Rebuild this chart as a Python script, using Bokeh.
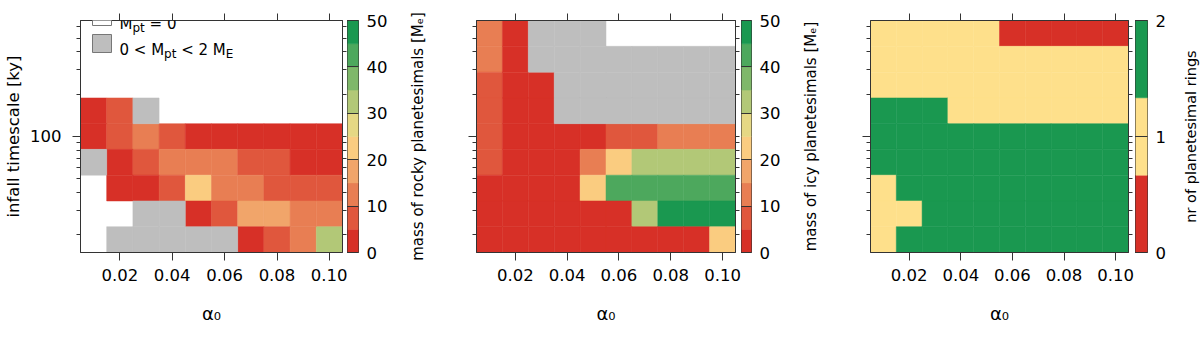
import numpy as np
from bokeh.plotting import figure
from bokeh.layouts import row
from bokeh.models import (ColumnDataSource, LinearColorMapper, FixedTicker, LinearAxis,
                          LogAxis, Range1d, Label, PrintfTickFormatter, BoxAnnotation)
from bokeh.transform import transform
from bokeh.embed import file_html
from bokeh.resources import INLINE

# ---------------- data ----------------
alpha0 = [0.01, 0.02, 0.03, 0.04, 0.05, 0.06, 0.07, 0.08, 0.09, 0.10]
tau_ky = [540, 354, 232, 152, 100, 65.6, 43.0, 28.2, 18.5]  # rows, top to bottom

# mass of rocky planetesimals [M_E] (0 = none, 0<M<2 drawn grey)
rocky = [
    [0,   0,   0,   0,   0,   0,   0,   0,   0,   0],
    [0,   0,   0,   0,   0,   0,   0,   0,   0,   0],
    [0,   0,   0,   0,   0,   0,   0,   0,   0,   0],
    [3.5, 7,   1,   0,   0,   0,   0,   0,   0,   0],
    [3.5, 7,   12,  7,   3.5, 3.5, 3.5, 3.5, 3.5, 3.5],
    [1,   3.5, 7,   12,  12,  12,  7,   7,   3.5, 3.5],
    [0,   3.5, 3.5, 7,   22,  12,  12,  7,   7,   7],
    [0,   0,   1,   1,   3.5, 7,   17,  17,  12,  12],
    [0,   1,   1,   1,   1,   1,   3.5, 7,   12,  32],
]
# mass of icy planetesimals [M_E]
icy = [
    [12,  3.5, 1,   1,   1,   0,   0,   0,   0,   0],
    [12,  3.5, 1,   1,   1,   1,   1,   1,   1,   1],
    [7,   3.5, 3.5, 1,   1,   1,   1,   1,   1,   1],
    [7,   3.5, 3.5, 1,   1,   1,   1,   1,   1,   1],
    [7,   3.5, 3.5, 3.5, 3.5, 7,   7,   12,  12,  12],
    [7,   3.5, 3.5, 3.5, 12,  22,  32,  32,  32,  32],
    [3.5, 3.5, 3.5, 3.5, 22,  42,  42,  42,  42,  42],
    [3.5, 3.5, 3.5, 3.5, 3.5, 3.5, 32,  47,  47,  47],
    [3.5, 3.5, 3.5, 3.5, 3.5, 3.5, 3.5, 3.5, 3.5, 22],
]
# number of planetesimal rings
rings = [
    [1, 1, 1, 1, 1, 0, 0, 0, 0, 0],
    [1, 1, 1, 1, 1, 1, 1, 1, 1, 1],
    [1, 1, 1, 1, 1, 1, 1, 1, 1, 1],
    [2, 2, 2, 1, 1, 1, 1, 1, 1, 1],
    [2, 2, 2, 2, 2, 2, 2, 2, 2, 2],
    [2, 2, 2, 2, 2, 2, 2, 2, 2, 2],
    [1, 2, 2, 2, 2, 2, 2, 2, 2, 2],
    [1, 1, 2, 2, 2, 2, 2, 2, 2, 2],
    [1, 2, 2, 2, 2, 2, 2, 2, 2, 2],
]

x_ticks = [0.02, 0.04, 0.06, 0.08, 0.10]
y_ticks = [100]
y_minor = [20, 30, 40, 50, 60, 70, 80, 90, 200, 300, 400, 500, 600]
mass_ticks = [0, 10, 20, 30, 40, 50]
ring_ticks = [0, 1, 2]

title_rocky = "mass of rocky planetesimals [Mₑ]"
title_icy = "mass of icy planetesimals [Mₑ]"
title_rings = "nr of planetesimal rings"

mass_palette = ["#d73027", "#e0573d", "#e87e53", "#f1a56a", "#facc80",
                "#e5d884", "#b2c877", "#7fb86a", "#4da85d", "#1a9850"]
ring_palette = ["#d73027", "#fee08b", "#1a9850"]
GREY = "#bebebe"
INK = "#333333"
FONT = "DejaVu Sans"

# --------------- helpers ---------------
def edges(c, log=False):
    c = np.log10(c) if log else np.asarray(c, float)
    c = np.sort(c)
    mid = (c[1:] + c[:-1]) / 2
    e = np.concatenate([[c[0] - (mid[0] - c[0])], mid, [c[-1] + (c[-1] - mid[-1])]])
    return 10 ** e if log else e

xe = edges(alpha0)
ye = edges(tau_ky, log=True)

def cells(grid):
    ys = sorted(tau_ky)
    d = dict(left=[], right=[], bottom=[], top=[], v=[])
    for i, t in enumerate(tau_ky):
        k = ys.index(t)
        for j in range(len(alpha0)):
            d["left"].append(xe[j]); d["right"].append(xe[j + 1])
            d["bottom"].append(ye[k]); d["top"].append(ye[k + 1])
            d["v"].append(grid[i][j])
    return d

def subset(d, cond):
    idx = [n for n, v in enumerate(d["v"]) if cond(v)]
    return {k: [d[k][n] for n in idx] for k in d}

W = {' ': .318, '0': .636, '1': .636, '2': .636, '<': .838, '=': .838, 'M': .863, 'E': .632,
     'p': .635, 't': .392}

def tw(s, size):
    return sum(W.get(ch, .6) for ch in s) * size

def add_pieces(p, pieces, x0, y0):
    """horizontal text pieces (with subscripts) as screen-space labels"""
    pos = 0.0
    for text, size, shift in pieces:
        stripped = text.lstrip(' ')
        pos += tw(text[:len(text) - len(stripped)], size)
        p.add_layout(Label(x=x0 + pos, y=y0 - shift, x_units='screen', y_units='screen',
                           text=stripped, text_font=FONT, text_font_size=f"{size}px",
                           text_align='left', text_baseline='alphabetic', text_color='black'))
        pos += tw(stripped, size)

def hide_labels(ax, ticks):
    ax.major_label_overrides = {t: "" for t in ticks}
    ax.major_label_text_font_size = "1px"
    ax.major_label_standoff = 0

def style_label(ax, text, size, standoff):
    ax.axis_label = text
    ax.axis_label_text_font = FONT
    ax.axis_label_text_font_size = size
    ax.axis_label_text_font_style = "normal"
    ax.axis_label_text_color = "black"
    ax.axis_label_standoff = standoff

FIG_H = 346
TOP, FRAME_H = 20, 252
BOT = FIG_H - TOP - FRAME_H

def main_fig(grid, mapper, left_border, frame_w, right_border, prev_title=None,
             prev_standoff=0, grey_cells=True):
    p = figure(width=left_border + frame_w + right_border, height=FIG_H,
               x_range=Range1d(xe[0], xe[-1]), y_range=Range1d(ye[0], ye[-1]),
               y_axis_type="log", toolbar_location=None, output_backend="svg",
               min_border_left=left_border, min_border_right=right_border,
               min_border_top=TOP, min_border_bottom=BOT)
    p.grid.visible = False
    p.outline_line_color = INK
    p.outline_line_width = 1
    d = cells(grid)
    if grey_cells:
        src = ColumnDataSource(subset(d, lambda v: v >= 2))
        p.quad(left="left", right="right", bottom="bottom", top="top", source=src,
               fill_color=transform("v", mapper), line_color=transform("v", mapper), line_width=0.5)
        gsrc = ColumnDataSource(subset(d, lambda v: 0 < v < 2))
        p.quad(left="left", right="right", bottom="bottom", top="top", source=gsrc,
               fill_color=GREY, line_color=GREY, line_width=0.5)
    else:
        src = ColumnDataSource(d)
        p.quad(left="left", right="right", bottom="bottom", top="top", source=src,
               fill_color=transform("v", mapper), line_color=transform("v", mapper), line_width=0.5)

    xb = p.xaxis[0]
    xb.ticker = FixedTicker(ticks=x_ticks)
    xb.formatter = PrintfTickFormatter(format="%.2f")
    yl = p.yaxis[0]
    yl.ticker = FixedTicker(ticks=y_ticks, minor_ticks=y_minor)
    yl.formatter = PrintfTickFormatter(format="%d")
    for ax in (xb, yl):
        ax.axis_line_color = INK
        ax.major_tick_line_color = INK
        ax.minor_tick_line_color = INK
        ax.major_tick_in = 0
        ax.minor_tick_in = 0
        ax.major_tick_out = 8
        ax.minor_tick_out = 4
        ax.major_label_text_font = FONT
        ax.major_label_text_font_size = "16.5px"
        ax.major_label_text_color = "black"
    xb.major_label_standoff = 8
    style_label(xb, "α₀", "18px", 19)
    yl.major_label_standoff = 11
    if prev_title is None:
        style_label(yl, "infall timescale [ky]", "16.5px", 4)
    else:
        # left border of this panel carries the colour-key title of the previous panel
        hide_labels(yl, y_ticks)
        style_label(yl, prev_title, "15px", prev_standoff)

    top = LinearAxis(ticker=FixedTicker(ticks=x_ticks), axis_line_color=INK,
                     major_tick_line_color=INK, major_tick_in=0, major_tick_out=7,
                     minor_tick_out=0)
    hide_labels(top, x_ticks)
    p.add_layout(top, "above")
    right = LogAxis(ticker=FixedTicker(ticks=y_ticks, minor_ticks=y_minor),
                    axis_line_color=INK, major_tick_line_color=INK, minor_tick_line_color=INK,
                    major_tick_in=0, major_tick_out=4, minor_tick_in=0, minor_tick_out=4)
    hide_labels(right, y_ticks)
    p.add_layout(right, "right")
    return p

def bar_fig(mapper, frame_w, right_border, ticks):
    n = len(mapper.palette)
    lo, hi = mapper.low, mapper.high
    bounds = [lo + (hi - lo) * k / n for k in range(n + 1)]
    p = figure(width=frame_w + right_border, height=FIG_H, x_range=Range1d(0, 1),
               y_range=Range1d(lo, hi), x_axis_type=None, y_axis_type=None,
               toolbar_location=None, output_backend="svg",
               min_border_left=0, min_border_right=right_border,
               min_border_top=TOP, min_border_bottom=BOT)
    p.grid.visible = False
    p.outline_line_color = INK
    src = ColumnDataSource(dict(bottom=bounds[:-1], top=bounds[1:], c=list(mapper.palette)))
    p.quad(left=0, right=1, bottom="bottom", top="top", fill_color="c", line_color="c",
           line_width=0.5, source=src)
    ax = LinearAxis(ticker=FixedTicker(ticks=ticks), axis_line_color=None,
                    major_tick_line_color=INK, major_tick_in=frame_w, major_tick_out=0,
                    minor_tick_out=0, minor_tick_in=0,
                    major_label_text_font=FONT, major_label_text_font_size="16.5px",
                    major_label_text_color="black", major_label_standoff=8)
    p.add_layout(ax, "right")
    return p

def end_title_fig(width, title, size, top_border, bottom_border):
    p = figure(width=width, height=FIG_H, x_range=Range1d(0, 1), y_range=Range1d(0, 1),
               x_axis_type=None, y_axis_type=None, toolbar_location=None, output_backend="svg",
               min_border_left=width - 2, min_border_right=0,
               min_border_top=top_border, min_border_bottom=bottom_border)
    p.grid.visible = False
    p.outline_line_color = None
    ax = LinearAxis(ticker=FixedTicker(ticks=[0.5]), axis_line_color=None,
                    major_tick_out=0, major_tick_in=0, minor_tick_out=0, minor_tick_in=0,
                    major_tick_line_color=None)
    hide_labels(ax, [0.5])
    style_label(ax, title, size, 0)
    p.add_layout(ax, "left")
    return p

mass_mapper = LinearColorMapper(palette=mass_palette, low=0, high=50)
ring_mapper = LinearColorMapper(palette=ring_palette, low=0, high=2)

f1 = main_fig(rocky, mass_mapper, 80, 262, 5)
c1 = bar_fig(mass_mapper, 14, 29, mass_ticks)
f2 = main_fig(icy, mass_mapper, 86, 259, 6, prev_title=title_rocky, prev_standoff=42)
c2 = bar_fig(mass_mapper, 13, 29, mass_ticks)
f3 = main_fig(rings, ring_mapper, 87, 258, 7, prev_title=title_icy, prev_standoff=43,
              grey_cells=False)
c3 = bar_fig(ring_mapper, 13, 20, ring_ticks)
t3 = end_title_fig(32, title_rings, "14.5px", 12, 94)

# legend of panel 1
for b, t, fill in ((227, 246, "white"), (200, 218, GREY)):
    f1.add_layout(BoxAnnotation(left=12, right=31, bottom=b, top=t,
                                left_units="screen", right_units="screen",
                                bottom_units="screen", top_units="screen",
                                fill_color=fill, fill_alpha=1.0,
                                line_color="#777777", line_alpha=1.0, line_width=1))
add_pieces(f1, [("M", 15, 0), ("pt", 12, 4), (" = 0", 15, 0)], 39, 229)
add_pieces(f1, [("0 < M", 15, 0), ("pt", 12, 4), (" < 2 M", 15, 0), ("E", 12, 4)], 39, 203)

layout = row(f1, c1, f2, c2, f3, c3, t3)
open("out.html", "w").write(file_html(layout, INLINE))
